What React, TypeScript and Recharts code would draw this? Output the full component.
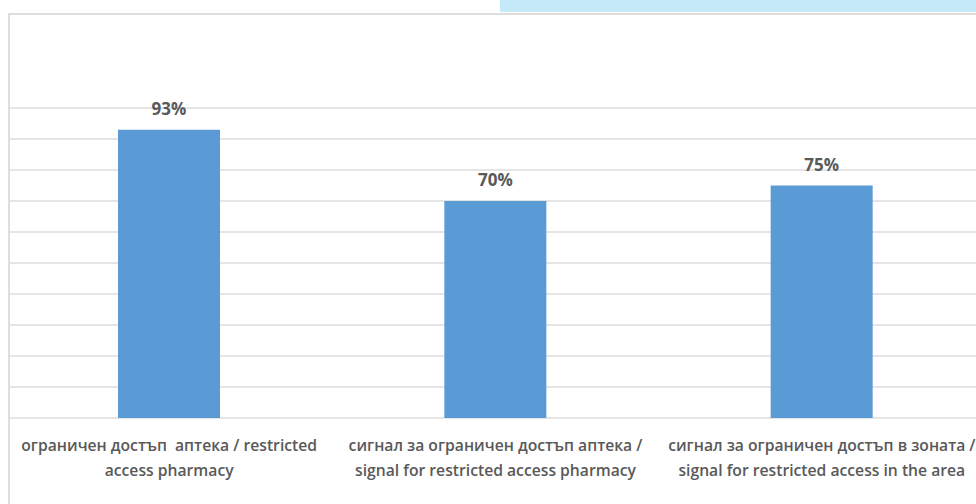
import React from "react";
import { BarChart, Bar, XAxis, YAxis, CartesianGrid, LabelList } from "recharts";

const categories = [
  "ограничен достъп  аптека / restricted\naccess pharmacy",
  "сигнал за ограничен достъп аптека /\nsignal for restricted access pharmacy",
  "сигнал за ограничен достъп в зоната /\nsignal for restricted access in the area",
];
const values = [93, 70, 75];
const yTicks = [0, 10, 20, 30, 40, 50, 60, 70, 80, 90, 100];

const data = categories.map((name, i) => ({ name, value: values[i] }));

const FONT = "'Open Sans', sans-serif";

function CategoryTick(props: any) {
  const { x, y, payload } = props;
  const lines = String(payload.value).split("\n");
  return (
    <text
      x={x}
      y={y}
      textAnchor="middle"
      fill="#595959"
      fontFamily={FONT}
      fontWeight={600}
      fontSize={15.7}
    >
      {lines.map((l, i) => (
        <tspan key={i} x={x} dy={i === 0 ? 33 : 25} style={{ whiteSpace: "pre" }}>
          {l}
        </tspan>
      ))}
    </text>
  );
}

export default function App() {
  return (
    <div
      style={{
        position: "absolute",
        left: 0,
        top: 0,
        width: 976,
        height: 504,
        overflow: "hidden",
        background: "#fff",
      }}
    >
      <div style={{ position: "absolute", left: 500, top: 0, width: 476, height: 12, background: "#c6e9f8" }} />
      <div style={{ position: "absolute", left: 0, top: 0 }}>
        <BarChart width={1000} height={504} data={data} margin={{ top: 108, right: 15, bottom: 0, left: 6 }}>
          <CartesianGrid vertical={false} stroke="#dcdcdc" strokeWidth={1.5} />
          <YAxis hide domain={[0, 100]} ticks={yTicks} />
          <XAxis
            dataKey="name"
            height={86}
            axisLine={false}
            tickLine={false}
            tickSize={0}
            tickMargin={0}
            interval={0}
            tick={<CategoryTick />}
          />
          <Bar dataKey="value" fill="#5b9bd5" barSize={102} isAnimationActive={false}>
            <LabelList
              dataKey="value"
              position="top"
              offset={15}
              formatter={(v: any) => `${v}%`}
              fill="#595959"
              fontFamily={FONT}
              fontWeight={700}
              fontSize={17}
            />
          </Bar>
        </BarChart>
      </div>
      <div
        style={{
          position: "absolute",
          left: 0,
          top: 13,
          width: 10,
          height: 491,
          background: "#fff",
        }}
      />
      <div
        style={{
          position: "absolute",
          left: 8,
          top: 13,
          width: 1000,
          height: 600,
          borderTop: "2px solid #dedede",
          borderLeft: "2px solid #dedede",
          boxSizing: "border-box",
        }}
      />
    </div>
  );
}
